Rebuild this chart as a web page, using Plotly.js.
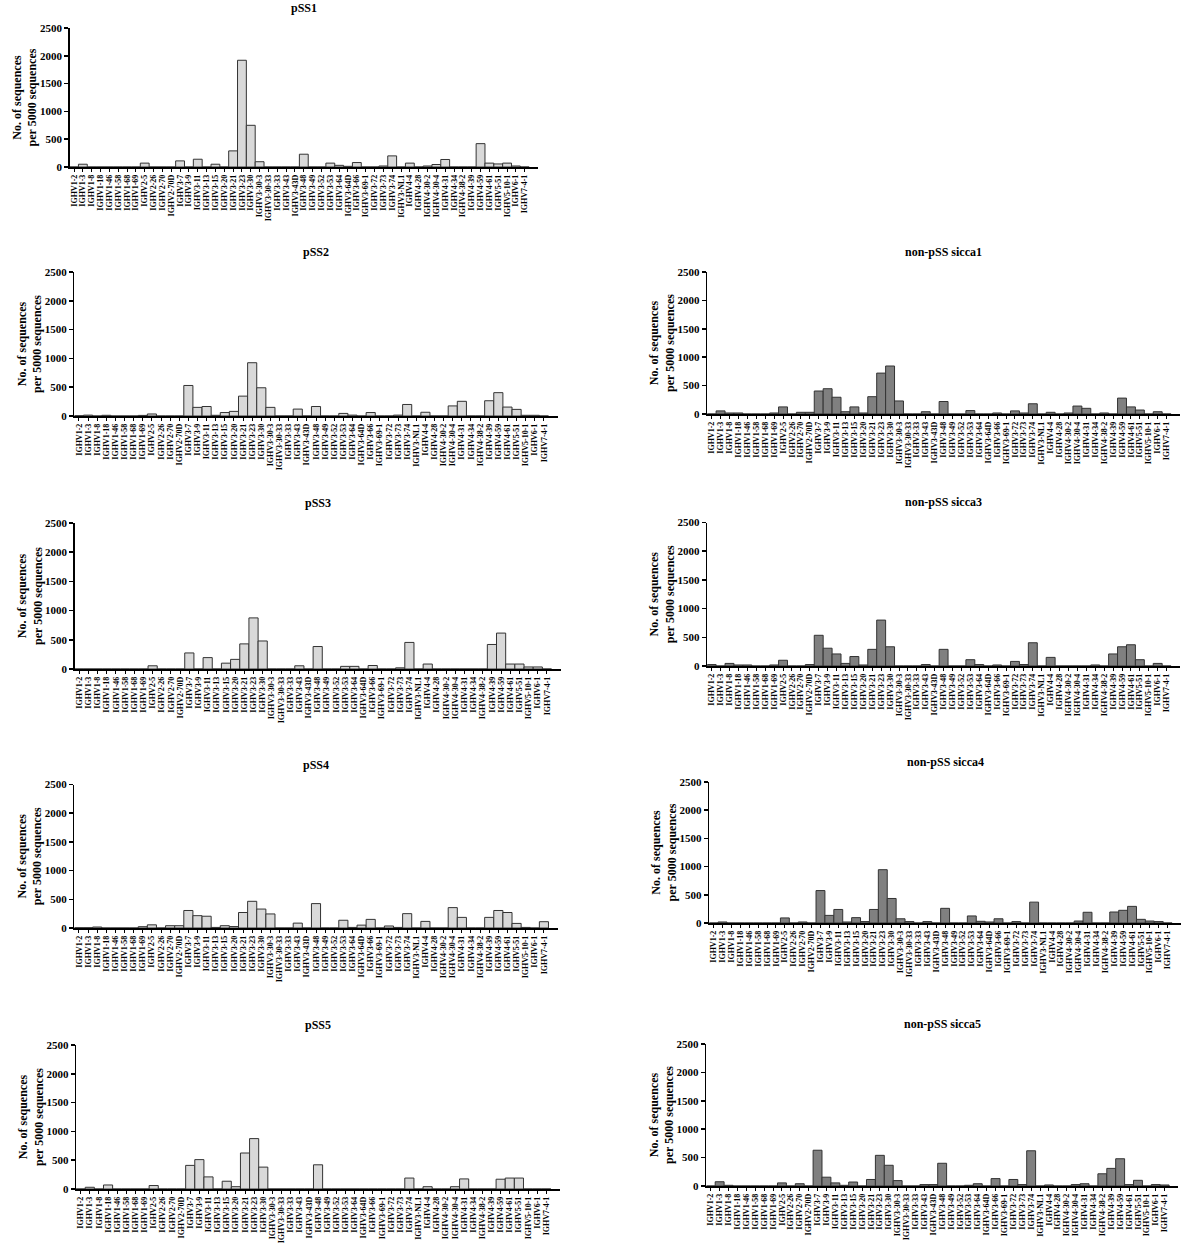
<!DOCTYPE html>
<html>
<head>
<meta charset="utf-8">
<script src="https://cdn.plot.ly/plotly-3.0.1.min.js"></script>
<style>
  html, body { margin: 0; padding: 0; background: #fff; }
  #chart { width: 1192px; height: 1244px; }
</style>
</head>
<body>
<div id="chart"></div>
<script>
// IGHV genes on every x axis
const genes = [
  'IGHV1-2', 'IGHV1-3', 'IGHV1-8', 'IGHV1-18', 'IGHV1-46', 'IGHV1-58', 'IGHV1-68', 'IGHV1-69',
  'IGHV2-5', 'IGHV2-26', 'IGHV2-70', 'IGHV2-70D',
  'IGHV3-7', 'IGHV3-9', 'IGHV3-11', 'IGHV3-13', 'IGHV3-15', 'IGHV3-20', 'IGHV3-21', 'IGHV3-23',
  'IGHV3-30', 'IGHV3-30-3', 'IGHV3-30-33', 'IGHV3-33', 'IGHV3-43', 'IGHV3-43D', 'IGHV3-48',
  'IGHV3-49', 'IGHV3-52', 'IGHV3-53', 'IGHV3-64', 'IGHV3-64D', 'IGHV3-66', 'IGHV3-69-1',
  'IGHV3-72', 'IGHV3-73', 'IGHV3-74', 'IGHV3-NL1',
  'IGHV4-4', 'IGHV4-28', 'IGHV4-30-2', 'IGHV4-30-4', 'IGHV4-31', 'IGHV4-34', 'IGHV4-38-2',
  'IGHV4-39', 'IGHV4-59', 'IGHV4-61',
  'IGHV5-51', 'IGHV5-10-1', 'IGHV6-1', 'IGHV7-4-1'
];

// sequences per 5000
const pSS1 = [0, 50, 0, 0, 0, 0, 0, 0, 70, 0, 0, 0, 110, 0, 140, 0, 50, 0, 290, 1920,
  750, 95, 0, 0, 0, 0, 230, 0, 0, 70, 30, 12, 80, 0, 0, 18, 200, 0, 70, 0,
  18, 45, 135, 0, 0, 0, 420, 70, 55, 70, 18, 0];
const pSS2 = [5, 15, 0, 12, 0, 0, 0, 10, 35, 0, 0, 0, 530, 150, 165, 12, 60, 80, 345, 925,
  490, 150, 0, 0, 120, 0, 165, 0, 0, 45, 15, 0, 60, 0, 0, 15, 200, 0, 65, 0,
  0, 175, 255, 0, 0, 265, 405, 155, 115, 12, 12, 0];
const pSS3 = [0, 0, 0, 0, 0, 0, 0, 0, 55, 0, 0, 0, 275, 0, 195, 0, 100, 165, 430, 875,
  480, 0, 0, 0, 55, 0, 385, 0, 0, 45, 45, 0, 60, 0, 0, 20, 455, 0, 85, 0,
  0, 0, 0, 0, 0, 420, 615, 85, 85, 35, 35, 0];
const pSS4 = [5, 5, 17, 0, 0, 0, 0, 23, 55, 0, 40, 40, 305, 215, 205, 10, 40, 25, 270, 465,
  330, 245, 0, 0, 85, 0, 425, 0, 0, 135, 10, 50, 150, 0, 35, 10, 250, 0, 115, 0,
  0, 355, 185, 0, 0, 185, 305, 270, 80, 10, 0, 110];
const pSS5 = [0, 30, 0, 70, 0, 0, 0, 0, 60, 0, 0, 0, 410, 510, 210, 0, 135, 40, 625, 875,
  380, 0, 0, 0, 0, 0, 420, 0, 0, 0, 0, 0, 0, 0, 0, 0, 190, 0, 40, 0,
  0, 40, 175, 0, 0, 0, 170, 190, 190, 0, 0, 0];
const sicca1 = [0, 55, 18, 18, 0, 0, 0, 18, 125, 0, 30, 30, 405, 445, 295, 40, 125, 18, 305, 720,
  845, 230, 0, 0, 40, 0, 220, 0, 0, 60, 0, 0, 18, 0, 55, 18, 180, 0, 30, 0,
  18, 140, 100, 0, 18, 0, 280, 125, 70, 0, 40, 0];
const sicca3 = [25, 0, 45, 18, 18, 0, 0, 18, 100, 0, 0, 25, 535, 310, 210, 45, 165, 18, 290, 800,
  335, 0, 0, 0, 25, 0, 290, 0, 0, 110, 25, 0, 18, 0, 80, 25, 405, 0, 150, 0,
  0, 0, 0, 18, 0, 210, 335, 370, 110, 0, 45, 0];
const sicca4 = [0, 18, 0, 0, 0, 0, 0, 0, 90, 0, 18, 0, 575, 135, 240, 18, 95, 25, 240, 945,
  435, 75, 25, 0, 25, 0, 260, 0, 0, 125, 30, 18, 75, 0, 25, 0, 370, 0, 0, 0,
  0, 35, 190, 0, 0, 195, 225, 295, 65, 35, 25, 0];
const sicca5 = [0, 75, 12, 0, 0, 0, 0, 0, 55, 0, 40, 0, 630, 155, 55, 12, 70, 0, 115, 540,
  365, 95, 0, 0, 25, 25, 400, 0, 0, 12, 40, 0, 130, 0, 115, 25, 620, 0, 18, 0,
  0, 25, 40, 0, 215, 310, 480, 25, 100, 0, 25, 18];

const yTicks = [0, 500, 1000, 1500, 2000, 2500];

const W = 1192, H = 1244;
const LIGHT = '#d9d9d9', DARK = '#808080';

// box = [left, right, top, bottom] of each plot area in pixels
const panels = [
  {title: 'pSS1', y: pSS1, fill: LIGHT, box: [69.6, 538, 28, 167]},
  {title: 'pSS2', y: pSS2, fill: LIGHT, box: [74.4, 557.6, 272, 416]},
  {title: 'pSS3', y: pSS3, fill: LIGHT, box: [74.7, 560.7, 523, 669]},
  {title: 'pSS4', y: pSS4, fill: LIGHT, box: [74.4, 557.6, 784.5, 928]},
  {title: 'pSS5', y: pSS5, fill: LIGHT, box: [76.1, 560, 1045, 1189]},
  {title: 'non-pSS sicca1', y: sicca1, fill: DARK, box: [707.2, 1180, 272, 414]},
  {title: 'non-pSS sicca3', y: sicca3, fill: DARK, box: [707.2, 1180, 522.5, 666]},
  {title: 'non-pSS sicca4', y: sicca4, fill: DARK, box: [709.2, 1181, 782, 923]},
  {title: 'non-pSS sicca5', y: sicca5, fill: DARK, box: [706.3, 1178, 1044, 1186]}
];

const serif = 'Liberation Serif, Times New Roman, serif';
const traces = [];
const layout = {
  width: W,
  height: H,
  margin: {l: 0, r: 0, t: 0, b: 0},
  paper_bgcolor: '#fff',
  plot_bgcolor: '#fff',
  showlegend: false,
  bargap: 0,
  font: {family: serif, color: '#000'},
  annotations: []
};

panels.forEach((p, i) => {
  const n = i === 0 ? '' : String(i + 1);
  const [l, r, t, b] = p.box;
  traces.push({
    type: 'bar',
    x: genes,
    y: p.y,
    xaxis: 'x' + n,
    yaxis: 'y' + n,
    marker: {color: p.fill, line: {color: '#333', width: 1}},
    hoverinfo: 'x+y'
  });
  layout['xaxis' + n] = {
    domain: [l / W, r / W],
    anchor: 'y' + n,
    type: 'category',
    range: [-0.5, 52.5],
    tickmode: 'linear', tick0: 0, dtick: 1,
    tickangle: -90,
    tickfont: {family: serif, size: 8, weight: 'bold', color: '#000'},
    ticks: 'outside', ticklen: 3, tickwidth: 1, tickcolor: '#000',
    showline: true, linecolor: '#000', linewidth: 1.5,
    showgrid: false, zeroline: false, fixedrange: true
  };
  layout['yaxis' + n] = {
    domain: [1 - b / H, 1 - t / H],
    anchor: 'x' + n,
    range: [0, 2500],
    tickmode: 'array', tickvals: yTicks,
    tickfont: {family: serif, size: 11, weight: 'bold', color: '#000'},
    ticks: 'outside', ticklen: 4, tickwidth: 1.5, tickcolor: '#000',
    showline: true, linecolor: '#000', linewidth: 1.5,
    showgrid: false, zeroline: false, fixedrange: true,
    title: {
      text: 'No. of sequences<br>per 5000 sequences',
      font: {family: serif, size: 12, weight: 'bold', color: '#000'},
      standoff: 0
    }
  };
  layout.annotations.push({
    xref: 'paper', yref: 'paper',
    x: (l + r) / 2 / W, y: 1 - (t - 20) / H,
    xanchor: 'center', yanchor: 'middle',
    text: '<b>' + p.title + '</b>',
    showarrow: false,
    font: {family: serif, size: 12, color: '#000'}
  });
});

Plotly.newPlot('chart', traces, layout, {displayModeBar: false, staticPlot: true});
</script>
</body>
</html>
